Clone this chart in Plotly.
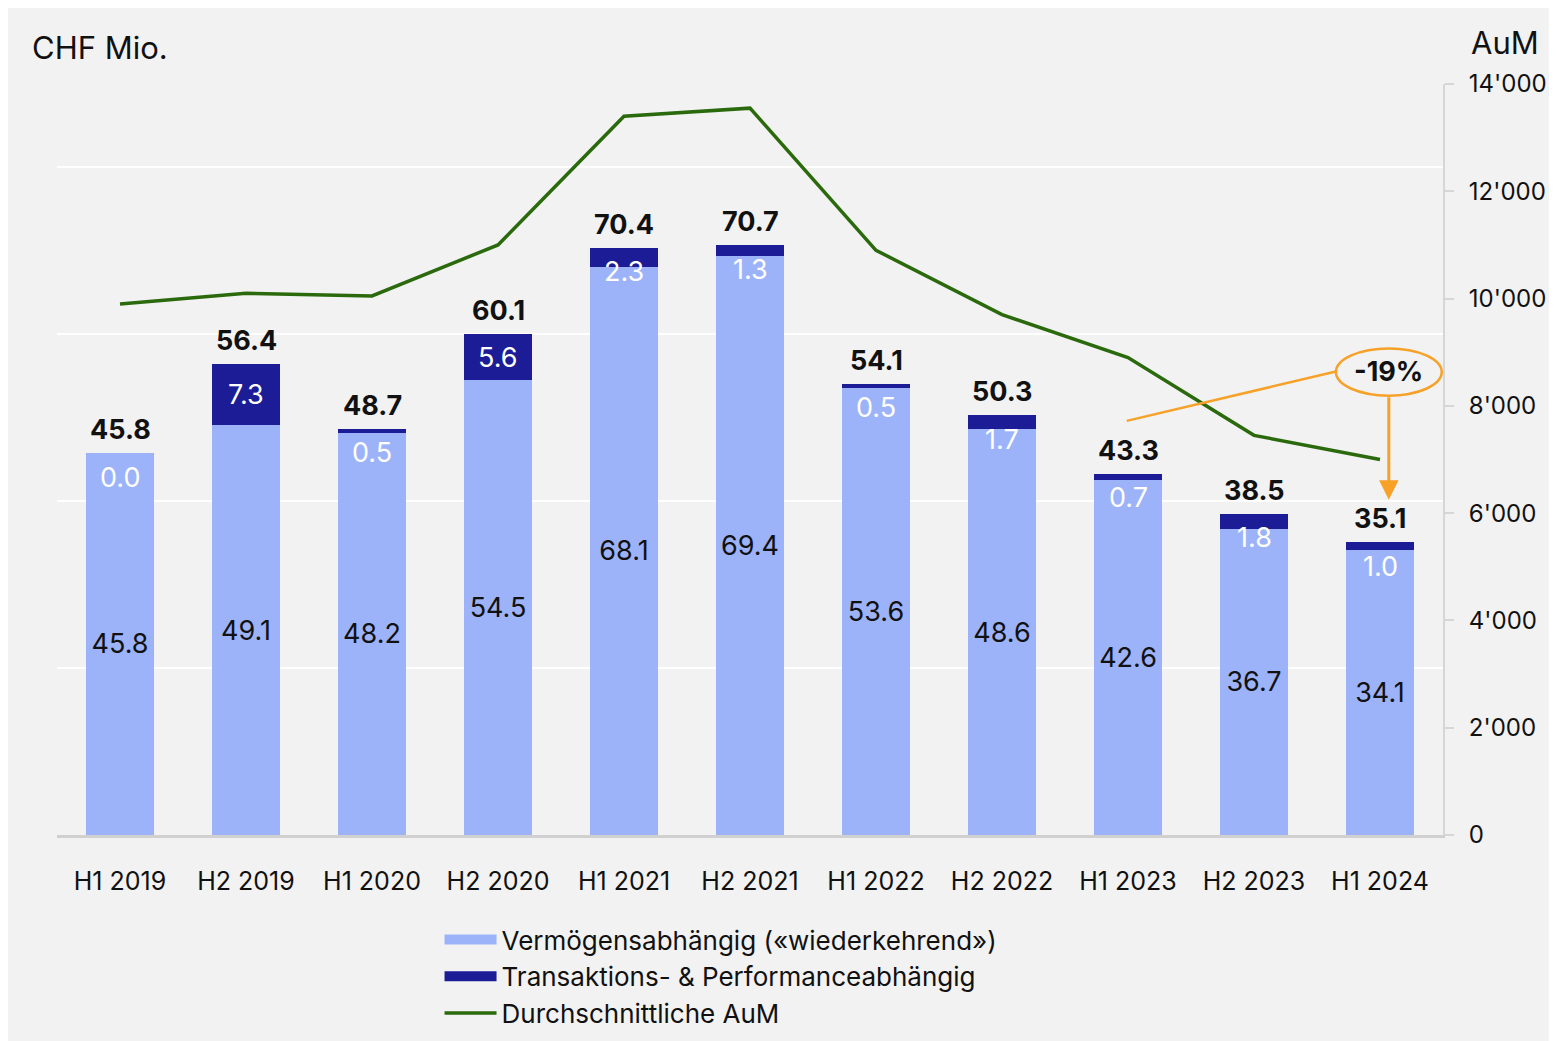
import plotly.graph_objects as go

categories = ["H1 2019", "H2 2019", "H1 2020", "H2 2020", "H1 2021", "H2 2021",
              "H1 2022", "H2 2022", "H1 2023", "H2 2023", "H1 2024"]
recurring = [45.8, 49.1, 48.2, 54.5, 68.1, 69.4, 53.6, 48.6, 42.6, 36.7, 34.1]
transaction = [0.0, 7.3, 0.5, 5.6, 2.3, 1.3, 0.5, 1.7, 0.7, 1.8, 1.0]
totals = [45.8, 56.4, 48.7, 60.1, 70.4, 70.7, 54.1, 50.3, 43.3, 38.5, 35.1]
avg_aum = [9900, 10100, 10050, 11000, 13400, 13550, 10900, 9700, 8900, 7450, 7000]

FONT = "Inter"
LIGHT = "#9db3f9"
DARK = "#1c1c96"
GREEN = "#2a6a0c"
ORANGE = "#f7a128"
BG = "#f2f2f2"
NAMES = ["Vermögensabhängig («wiederkehrend»)",
         "Transaktions- & Performanceabhängig",
         "Durchschnittliche AuM"]

fig = go.Figure()
fig.add_trace(go.Bar(
    x=categories, y=recurring, name=NAMES[0], showlegend=False,
    marker=dict(color=LIGHT, line=dict(width=0)), width=0.54,
    texttemplate="%{y:.1f}", textposition="inside", insidetextanchor="middle",
    textangle=0, textfont=dict(color="#111111", size=27, family=FONT),
))
fig.add_trace(go.Bar(
    x=categories, y=transaction, name=NAMES[1], showlegend=False,
    marker=dict(color=DARK, line=dict(width=0)), width=0.54,
))
# legend swatches (wide rectangles like the reference)
fig.add_trace(go.Scatter(x=[None], y=[None], mode="lines", name=NAMES[0],
                         line=dict(color=LIGHT, width=16)))
fig.add_trace(go.Scatter(x=[None], y=[None], mode="lines", name=NAMES[1],
                         line=dict(color=DARK, width=16)))
fig.add_trace(go.Scatter(
    x=categories, y=avg_aum, name=NAMES[2], yaxis="y2",
    mode="lines", line=dict(color=GREEN, width=3.5),
))

annotations = []
for i, (r, t, tot) in enumerate(zip(recurring, transaction, totals)):
    annotations.append(dict(
        x=i, y=tot, xref="x", yref="y", text=f"<b>{tot:.1f}</b>", showarrow=False,
        yanchor="bottom", yshift=5, font=dict(size=27, color="#111111", family=FONT)))
    ypos = min(r + t / 2, tot - 2.9)
    annotations.append(dict(
        x=i, y=ypos, xref="x", yref="y", text=f"{t:.1f}", showarrow=False,
        yanchor="middle", font=dict(size=27, color="white", family=FONT)))

# -19% callout
annotations.append(dict(
    x=10.07, y=6250, xref="x", yref="y2", ax=10.07, ay=8190, axref="x", ayref="y2",
    text="", showarrow=True, arrowhead=2, arrowsize=1.3, arrowwidth=3, arrowcolor=ORANGE))
annotations.append(dict(
    x=10.07, y=8640, xref="x", yref="y2", text="<b>-19%</b>", showarrow=False,
    font=dict(size=27, color="#111111", family=FONT)))
annotations.append(dict(
    x=-0.0195, y=1.049, xref="paper", yref="paper", text="CHF Mio.", showarrow=False,
    xanchor="left", yanchor="middle", font=dict(size=31, color="#111111", family=FONT)))
annotations.append(dict(
    x=1.0185, y=1.0546, xref="paper", yref="paper", text="AuM", showarrow=False,
    xanchor="left", yanchor="middle", font=dict(size=31, color="#111111", family=FONT)))

shapes = [
    dict(type="circle", xref="x", yref="y2", x0=9.65, x1=10.49, y0=8190, y1=9070,
         line=dict(color=ORANGE, width=2.5)),
    dict(type="line", xref="x", yref="y2", x0=7.99, y0=7720, x1=9.65, y1=8640,
         line=dict(color=ORANGE, width=2.5)),
]

fig.update_layout(
    width=1541, height=1033,
    margin=dict(l=49, r=106, t=76, b=206, autoexpand=False),
    paper_bgcolor=BG, plot_bgcolor=BG,
    barmode="stack", bargap=0.46,
    separators=".'",
    font=dict(family=FONT, color="#111111"),
    xaxis=dict(type="category", range=[-0.5, 10.5], showgrid=False, automargin=False,
               showline=True, linecolor="#d0d0d0", linewidth=3,
               ticks="", ticklabelstandoff=22,
               tickfont=dict(size=25, family=FONT, color="#111111")),
    yaxis=dict(range=[0, 90], tickvals=[20, 40, 60, 80], showticklabels=False,
               automargin=False,
               showgrid=True, gridcolor="white", gridwidth=2, zeroline=False),
    yaxis2=dict(range=[0, 14000], overlaying="y", side="right", automargin=False,
                tickvals=[0, 2000, 4000, 6000, 8000, 10000, 12000, 14000],
                tickformat=",", showgrid=False, zeroline=False,
                showline=True, linecolor="#d6d6d6", linewidth=2,
                ticks="outside", ticklen=9, tickcolor="#d6d6d6", tickwidth=2,
                ticklabelstandoff=10,
                tickfont=dict(size=24, family=FONT, color="#111111")),
    legend=dict(x=0.276, y=0.121, xref="paper", yref="container",
                xanchor="left", yanchor="top",
                orientation="v", bgcolor="rgba(0,0,0,0)",
                font=dict(size=26, family=FONT, color="#111111"),
                tracegroupgap=0, itemwidth=52, traceorder="normal"),
    annotations=annotations,
    shapes=shapes,
)

fig.write_html("out.html")
